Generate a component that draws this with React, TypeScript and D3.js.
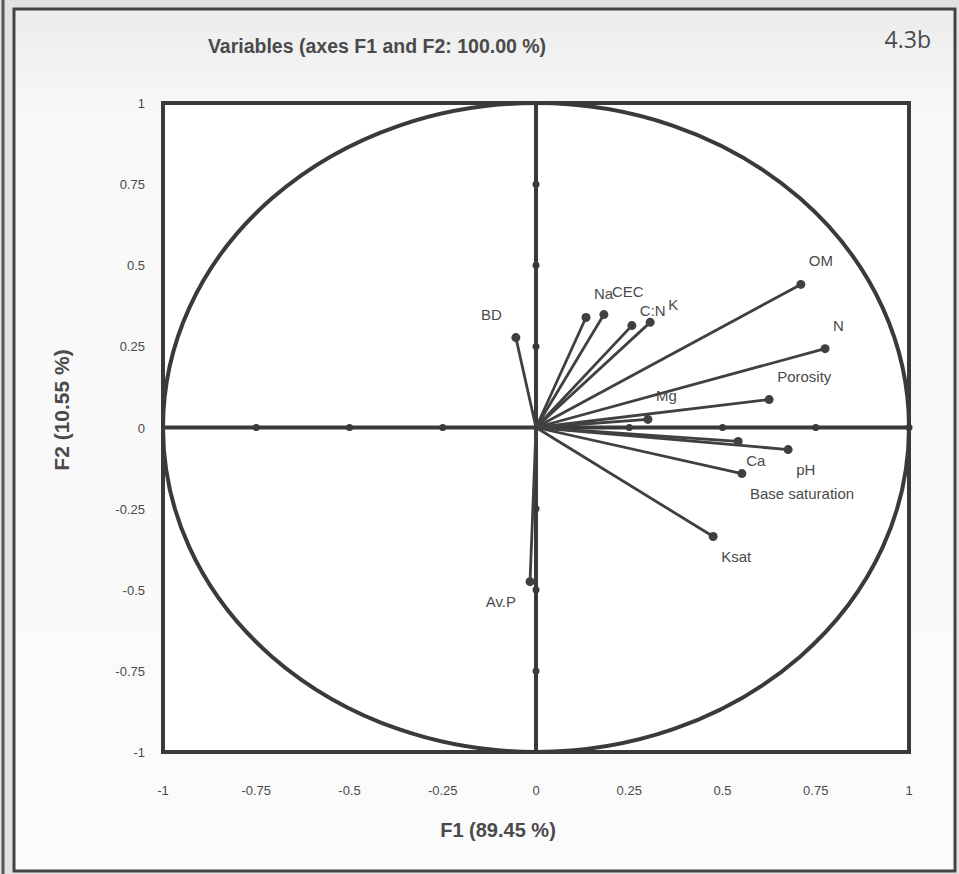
import React from "react";
import * as d3 from "d3";

// Correlation circle: variables projected on the first two factors
const variables = ["OM", "N", "Porosity", "Mg", "Ca", "pH", "Base saturation", "Ksat", "Av.P", "BD", "Na", "CEC", "C:N", "K"];
const f1Loadings = [0.71, 0.775, 0.625, 0.3, 0.542, 0.676, 0.552, 0.475, -0.016, -0.054, 0.134, 0.182, 0.257, 0.306];
const f2Loadings = [0.441, 0.243, 0.086, 0.025, -0.043, -0.068, -0.142, -0.336, -0.475, 0.277, 0.339, 0.348, 0.314, 0.324];
const tickValues = [-1, -0.75, -0.5, -0.25, 0, 0.25, 0.5, 0.75, 1];
const axisMarkers = [-0.75, -0.5, -0.25, 0.25, 0.5, 0.75];

const title = "Variables (axes F1 and F2: 100.00 %)";
const xTitle = "F1 (89.45 %)";
const yTitle = "F2 (10.55 %)";
const panelTag = "4.3b";

const W = 959;
const H = 874;
const frame = { left: 163, right: 909, top: 103, bottom: 752 };

const ink = "#3a3a3a";
const textInk = "#4a4a4a";
const sans = "'Liberation Sans', Arial, sans-serif";

// small nudges so crowded labels stay readable
const labelNudge: Record<string, [number, number]> = {
  "C:N": [0, 8],
  K: [10, 6],
};

export default function App() {
  const x = d3.scaleLinear().domain([-1, 1]).range([frame.left, frame.right]);
  const y = d3.scaleLinear().domain([-1, 1]).range([frame.bottom, frame.top]);
  const fmt = (v: number) => String(v);

  const points = variables.map((name, i) => ({ name, f1: f1Loadings[i], f2: f2Loadings[i] }));

  return (
    <svg width={W} height={H} viewBox={`0 0 ${W} ${H}`} style={{ position: "absolute", left: 0, top: 0 }}>
      <defs>
        <linearGradient id="paper" x1="0" y1="0" x2="0" y2="1">
          <stop offset="0" stopColor="#ececec" />
          <stop offset="0.12" stopColor="#f8f8f8" />
          <stop offset="1" stopColor="#fbfbfb" />
        </linearGradient>
      </defs>
      <rect x={0} y={0} width={W} height={H} fill="#e2e2e2" />
      <rect x={14} y={9} width={941} height={862} fill="url(#paper)" stroke="#444" strokeWidth={3} />
      <line x1={3} y1={0} x2={3} y2={H} stroke="#555" strokeWidth={3} />

      {/* plot frame */}
      <rect
        x={frame.left}
        y={frame.top}
        width={frame.right - frame.left}
        height={frame.bottom - frame.top}
        fill="#ffffff"
        stroke={ink}
        strokeWidth={4}
      />

      {/* unit circle */}
      <ellipse
        cx={x(0)}
        cy={y(0)}
        rx={x(1) - x(0)}
        ry={y(0) - y(1)}
        fill="none"
        stroke={ink}
        strokeWidth={4}
      />

      {/* axes through the origin */}
      <line x1={x(-1)} y1={y(0)} x2={x(1)} y2={y(0)} stroke={ink} strokeWidth={4} />
      <line x1={x(0)} y1={y(1)} x2={x(0)} y2={y(-1)} stroke={ink} strokeWidth={4} />
      {axisMarkers.map((v) => (
        <circle key={`hx${v}`} cx={x(v)} cy={y(0)} r={3.5} fill={ink} />
      ))}
      <circle cx={x(1)} cy={y(0)} r={3.5} fill={ink} />
      {axisMarkers.map((v) => (
        <circle key={`vy${v}`} cx={x(0)} cy={y(v)} r={3.5} fill={ink} />
      ))}

      {/* variable vectors */}
      {points.map((p) => (
        <g key={p.name}>
          <line x1={x(0)} y1={y(0)} x2={x(p.f1)} y2={y(p.f2)} stroke="#404040" strokeWidth={2.8} />
          <circle cx={x(p.f1)} cy={y(p.f2)} r={4.5} fill="#404040" />
        </g>
      ))}
      {points.map((p) => {
        const right = p.f1 >= 0;
        const above = p.f2 >= 0;
        const [dx, dy] = labelNudge[p.name] ?? [0, 0];
        return (
          <text
            key={`l-${p.name}`}
            x={x(p.f1) + (right ? 8 : -14) + dx}
            y={y(p.f2) + (above ? -18 : 25) + dy}
            textAnchor={right ? "start" : "end"}
            fontFamily={sans}
            fontSize={15}
            fill={textInk}
          >
            {p.name}
          </text>
        );
      })}

      {/* tick labels */}
      {tickValues.map((v) => (
        <text
          key={`xt${v}`}
          x={x(v)}
          y={795}
          textAnchor="middle"
          fontFamily={sans}
          fontSize={13}
          fill={textInk}
        >
          {fmt(v)}
        </text>
      ))}
      {tickValues.map((v) => (
        <text
          key={`yt${v}`}
          x={145}
          y={y(v) + 5}
          textAnchor="end"
          fontFamily={sans}
          fontSize={13}
          fill={textInk}
        >
          {fmt(v)}
        </text>
      ))}

      {/* titles */}
      <text x={377} y={53} textAnchor="middle" fontFamily={sans} fontWeight="bold" fontSize={19.5} fill={textInk}>
        {title}
      </text>
      <text x={931} y={48} textAnchor="end" fontFamily="'Open Sans', 'DejaVu Sans', sans-serif" fontSize={23} fill="#4a4a4a">
        {panelTag}
      </text>
      <text x={498} y={837} textAnchor="middle" fontFamily={sans} fontWeight="bold" fontSize={20} fill={textInk}>
        {xTitle}
      </text>
      <text
        transform={`translate(69, 410) rotate(-90)`}
        textAnchor="middle"
        fontFamily={sans}
        fontWeight="bold"
        fontSize={21}
        fill={textInk}
      >
        {yTitle}
      </text>
    </svg>
  );
}
